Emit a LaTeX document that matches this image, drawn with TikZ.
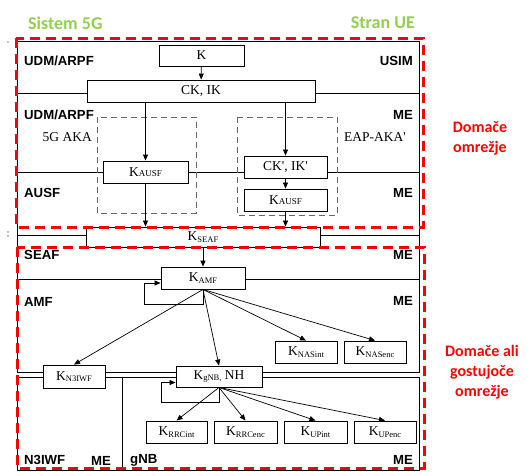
\documentclass[tikz,border=0pt]{standalone}
\usepackage{fontspec}
\setmainfont{Liberation Serif}
\newfontfamily\labfont{Liberation Sans}
\newfontfamily\califont{Carlito}
\usetikzlibrary{arrows.meta}
\definecolor{gtitle}{RGB}{146,208,80}
\definecolor{rtitle}{RGB}{255,0,0}
\newcommand{\Ksub}[1]{K\raisebox{-1.3pt}{\fontsize{8.5}{9}\selectfont #1}}
\newcommand{\Kcap}[1]{K{\fontsize{9}{9}\selectfont #1}}
\newcommand{\sq}{\textquotesingle}
\begin{document}
\begin{tikzpicture}[x=1pt,y=-1pt,
  kbox/.style={draw, line width=0.9pt, fill=white, inner sep=0pt, font=\fontsize{13.5}{15}\selectfont},
  lab/.style={font=\labfont\bfseries\fontsize{13.2}{14}\selectfont, inner sep=0pt},
  serl/.style={font=\fontsize{13.5}{15}\selectfont, inner sep=0pt},
  tip/.style={-{Triangle[length=6pt,width=5pt]}, line width=0.7pt},
  frame/.style={line width=0.8pt},
  akabox/.style={draw=black!60, dash pattern=on 6pt off 4pt, line width=0.9pt},
  reddash/.style={draw=rtitle, line width=3pt, dash pattern=on 10pt off 6pt},
  gtext/.style={text=gtitle, font=\califont\bfseries\fontsize{18}{20}\selectfont, inner sep=0pt},
  rtext/.style={text=rtitle, font=\califont\bfseries\fontsize{16}{20}\selectfont, align=center, inner sep=0pt}
]
\useasboundingbox (0,0) rectangle (527,471);

% frames and dividers
\draw[frame] (17,41) rectangle (419,372);
\draw[frame] (17,93) -- (419,93);
\draw[frame] (17,172) -- (419,172);
\draw[frame] (17,235) -- (419,235);
\draw[frame] (17,279) -- (419,279);
\draw[frame] (17,377) rectangle (122,470);
\draw[frame] (122,377) rectangle (419,470);

% gray dashed AKA boxes
\draw[akabox] (97,117) rectangle (196,213);
\draw[akabox] (237,117) rectangle (337,215);

% side labels
\node[lab, anchor=west] (l1) at (24,61) {UDM/ARPF};
\node[lab, anchor=east] (r1) at (413,61) {USIM};
\node[lab, anchor=west] (l2) at (24,115) {UDM/ARPF};
\node[lab, anchor=east] (r2) at (413,115) {ME};
\node[lab, anchor=west] (l3) at (24,193) {AUSF};
\node[lab, anchor=east] (r3) at (413,193) {ME};
\node[lab, anchor=west] (l4) at (24,255) {SEAF};
\node[lab, anchor=east] (r4) at (413,255) {ME};
\node[lab, anchor=west] (l5) at (24,302) {AMF};
\node[lab, anchor=east] (r5) at (413,301) {ME};
\node[lab, anchor=west] (l6) at (24,460) {N3IWF};
\node[lab] (m6) at (101,461) {ME};
\node[lab, anchor=west] (l7) at (130,460) {gNB};
\node[lab, anchor=east] (r7) at (413,460) {ME};

\node[serl, anchor=east] (aka) at (92,137) {5G AKA};
\node[serl, anchor=west] (eap) at (344,137) {EAP-AKA\sq};

% key boxes
\node[kbox, minimum width=85pt, minimum height=21pt] (k) at (201.5,55.5) {K};
\node[kbox, minimum width=228pt, minimum height=22pt] (ck) at (201,91) {CK, IK};
\node[kbox, minimum width=85pt, minimum height=22pt] (kausfL) at (145.5,172) {\Kcap{AUSF}};
\node[kbox, minimum width=83pt, minimum height=22pt] (ckp) at (285.5,167) {CK\sq, IK\sq};
\node[kbox, minimum width=83pt, minimum height=22pt] (kausfR) at (285.5,200) {\Kcap{AUSF}};
\node[kbox, minimum width=234pt, minimum height=20pt] (kseaf) at (203,237) {\Ksub{SEAF}};
\node[kbox, minimum width=84pt, minimum height=22pt] (kamf) at (203,278) {\Ksub{AMF}};
\node[kbox, minimum width=62pt, minimum height=22pt] (knasint) at (306,352) {\Ksub{NASint}};
\node[kbox, minimum width=62pt, minimum height=22pt] (knasenc) at (375,352) {\Ksub{NASenc}};
\node[kbox, minimum width=62pt, minimum height=23pt] (kn3iwf) at (74,376.5) {\Ksub{N3IWF}};
\node[kbox, minimum width=86pt, minimum height=21pt] (kgnb) at (219,376.5) {\Ksub{gNB,} NH};
\node[kbox, minimum width=61pt, minimum height=22pt] (krrcint) at (176.5,432) {\Ksub{RRCint}};
\node[kbox, minimum width=63pt, minimum height=22pt] (krrcenc) at (245.5,432) {\Ksub{RRCenc}};
\node[kbox, minimum width=63pt, minimum height=22pt] (kupint) at (315.5,432) {\Ksub{UPint}};
\node[kbox, minimum width=62pt, minimum height=22pt] (kupenc) at (385,432) {\Ksub{UPenc}};

% arrows
\draw[tip] (k) -- (ck);
\draw[tip] (ck.south -| kausfL) -- (kausfL);
\draw[tip] (ck.south -| ckp) -- (ckp);
\draw[tip] (ckp) -- (kausfR);
\draw[tip] (kausfL) -- (kausfL |- kseaf.north);
\draw[tip] (kausfR) -- (kausfR |- kseaf.north);
\draw[tip] (kseaf) -- (kamf);
\draw[tip] (kamf.south) -- ++(0,15) -| ([xshift=-16pt,yshift=-5pt]kamf.west) -- ([yshift=-5pt]kamf.west);
\draw[tip] (kamf.south) -- (kn3iwf.north);
\draw[tip] (kamf.south) -- (kgnb.north);
\draw[tip] (kamf.south) -- (knasint.north);
\draw[tip] (kamf.south) -- (knasenc.north);
\draw[tip] (kgnb.south) -- ++(0,15) -| ([xshift=-14pt,yshift=-6pt]kgnb.west) -- ([yshift=-6pt]kgnb.west);
\draw[tip] (kgnb.south) -- (krrcint.north);
\draw[tip] (kgnb.south) -- (krrcenc.north);
\draw[tip] (kgnb.south) -- (kupint.north);
\draw[tip] (kgnb.south) -- (kupenc.north);

% red dashed regions
\draw[reddash] (16,38) rectangle (423,227);
\draw[reddash] (17,247) rectangle (424,468);

% titles
\node[gtext, anchor=west] (t1) at (28,23) {Sistem 5G};
\node[gtext, anchor=east] (t2) at (415,23) {Stran UE};
\node[rtext] (d1) at (480,138) {Domače\\omrežje};
\node[rtext] (d2) at (482,372) {Domače ali\\gostujoče\\omrežje};

% stray marks
\fill (8,42) circle (0.6pt);
\fill (8,232) circle (0.6pt);
\fill (8,236) circle (0.6pt);
\end{tikzpicture}
\end{document}
